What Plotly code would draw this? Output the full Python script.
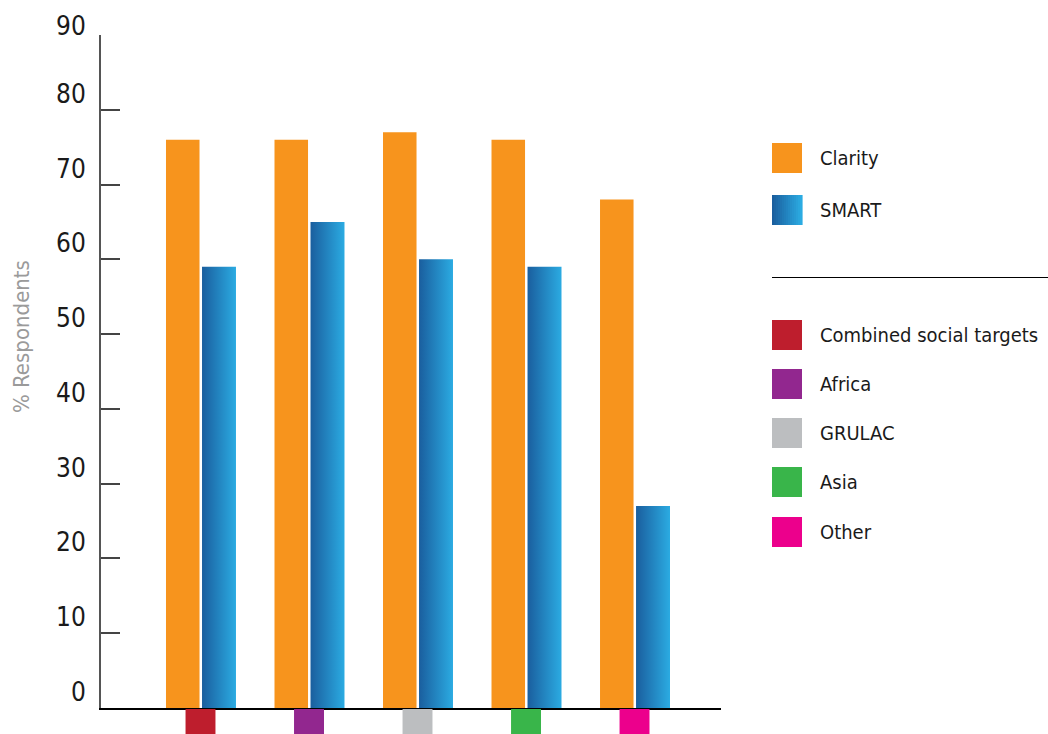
import plotly.graph_objects as go

# ---- data ----
regions = ["Combined social targets", "Africa", "GRULAC", "Asia", "Other"]
region_colors = ["#BE1E2D", "#92278F", "#BCBEC0", "#39B54A", "#EC008C"]
clarity = [76, 76, 77, 76, 68]
smart = [59, 65, 60, 59, 27]
y_ticks = [0, 10, 20, 30, 40, 50, 60, 70, 80, 90]
series_names = ["Clarity", "SMART"]

# ---- styling / layout constants ----
W, H = 1048, 734
FONT = "DejaVu Sans Condensed, Liberation Sans Narrow, sans-serif"
ORANGE = "#F7941D"
BLUE_DARK = "#1A5E9E"
BLUE_LIGHT = "#2BABE2"


def px(x):
    return x / W


def py(y):
    return 1 - y / H


def mix(c1, c2, t):
    a = [int(c1[i:i + 2], 16) for i in (1, 3, 5)]
    b = [int(c2[i:i + 2], 16) for i in (1, 3, 5)]
    return "#%02x%02x%02x" % tuple(round(a[k] + (b[k] - a[k]) * t) for k in range(3))


fig = go.Figure()

idx = list(range(len(regions)))

# Clarity bars
fig.add_trace(go.Bar(
    x=idx, y=clarity, name=series_names[0],
    width=0.309, offset=-0.318,
    marker=dict(color=ORANGE, line=dict(width=0)),
    showlegend=False,
))

# SMART bars with horizontal gradient (one filled shape per bar)
b_off0, b_off1 = 0.014, 0.327
for i, v in zip(idx, smart):
    fig.add_trace(go.Scatter(
        x=[i + b_off0, i + b_off1, i + b_off1, i + b_off0, i + b_off0],
        y=[0, 0, v, v, 0],
        mode="lines", fill="toself",
        line=dict(width=0, color=BLUE_LIGHT),
        fillgradient=dict(type="horizontal",
                          colorscale=[[0, BLUE_DARK], [1, BLUE_LIGHT]]),
        name=series_names[1], showlegend=False, hoverinfo="skip",
    ))

shapes = []
annotations = []

# category colour squares below the x axis
for i, c in zip(idx, region_colors):
    shapes.append(dict(type="rect", xref="x", yref="paper",
                       x0=i - 0.138, x1=i + 0.138, y0=py(740), y1=py(709),
                       fillcolor=c, line=dict(width=0), layer="above"))

# y tick labels (sit slightly above their tick marks)
for t in y_ticks:
    annotations.append(dict(
        x=px(88), xref="paper", y=t, yref="y", text=str(t),
        xanchor="right", yanchor="middle", showarrow=False,
        yshift=9 if t == y_ticks[-1] else 16,
        font=dict(family=FONT, size=26, color="#1a1a1a"),
    ))

# y axis title
annotations.append(dict(
    x=px(22), y=py(337), xref="paper", yref="paper",
    text="% Respondents", textangle=-90, showarrow=False,
    xanchor="center", yanchor="middle",
    font=dict(family=FONT, size=22, color="#9a9a9a"),
))

# legend
sw = 30
leg_x0 = 772
text_x = 820


def legend_item(label, top, color=None, gradient=False):
    if gradient:
        n = 15
        for k in range(n):
            shapes.append(dict(
                type="rect", xref="paper", yref="paper",
                x0=px(leg_x0 + k * sw / n), x1=px(leg_x0 + (k + 1) * sw / n + 0.6),
                y0=py(top + sw), y1=py(top),
                fillcolor=mix(BLUE_DARK, BLUE_LIGHT, k / (n - 1)), line=dict(width=0)))
    else:
        shapes.append(dict(type="rect", xref="paper", yref="paper",
                           x0=px(leg_x0), x1=px(leg_x0 + sw),
                           y0=py(top + sw), y1=py(top),
                           fillcolor=color, line=dict(width=0)))
    annotations.append(dict(
        x=px(text_x), y=py(top + sw / 2), xref="paper", yref="paper",
        text=label, showarrow=False, xanchor="left", yanchor="middle",
        xshift=-2,
        font=dict(family=FONT, size=20, color="#1a1a1a"),
    ))


legend_item(series_names[0], 143, color=ORANGE)
legend_item(series_names[1], 195, gradient=True)

# separator line
shapes.append(dict(type="line", xref="paper", yref="paper",
                   x0=px(772), x1=px(1048), y0=py(277.5), y1=py(277.5),
                   line=dict(color="#000000", width=1)))

region_tops = [320, 369, 418, 467, 517]
for name, c, top in zip(regions, region_colors, region_tops):
    legend_item(name, top, color=c)

fig.update_layout(
    width=W, height=H,
    margin=dict(l=0, r=0, t=0, b=0),
    paper_bgcolor="white", plot_bgcolor="white",
    showlegend=False,
    xaxis=dict(domain=[px(101), px(721)], range=[-0.917, 4.797],
               showline=True, linecolor="#000000", linewidth=2,
               showticklabels=False, ticks="", showgrid=False, zeroline=False,
               fixedrange=True),
    yaxis=dict(domain=[py(708), py(35)], range=[0, 90],
               showline=True, linecolor="#555555", linewidth=1.5,
               tickvals=y_ticks, ticks="inside", ticklen=19, tickwidth=1.5,
               tickcolor="#444444", showticklabels=False,
               showgrid=False, zeroline=False, fixedrange=True),
    shapes=shapes,
    annotations=annotations,
)

fig.write_html("out.html", config={"displayModeBar": False},
               post_script="document.body.style.margin='0';document.body.style.overflow='hidden';")
